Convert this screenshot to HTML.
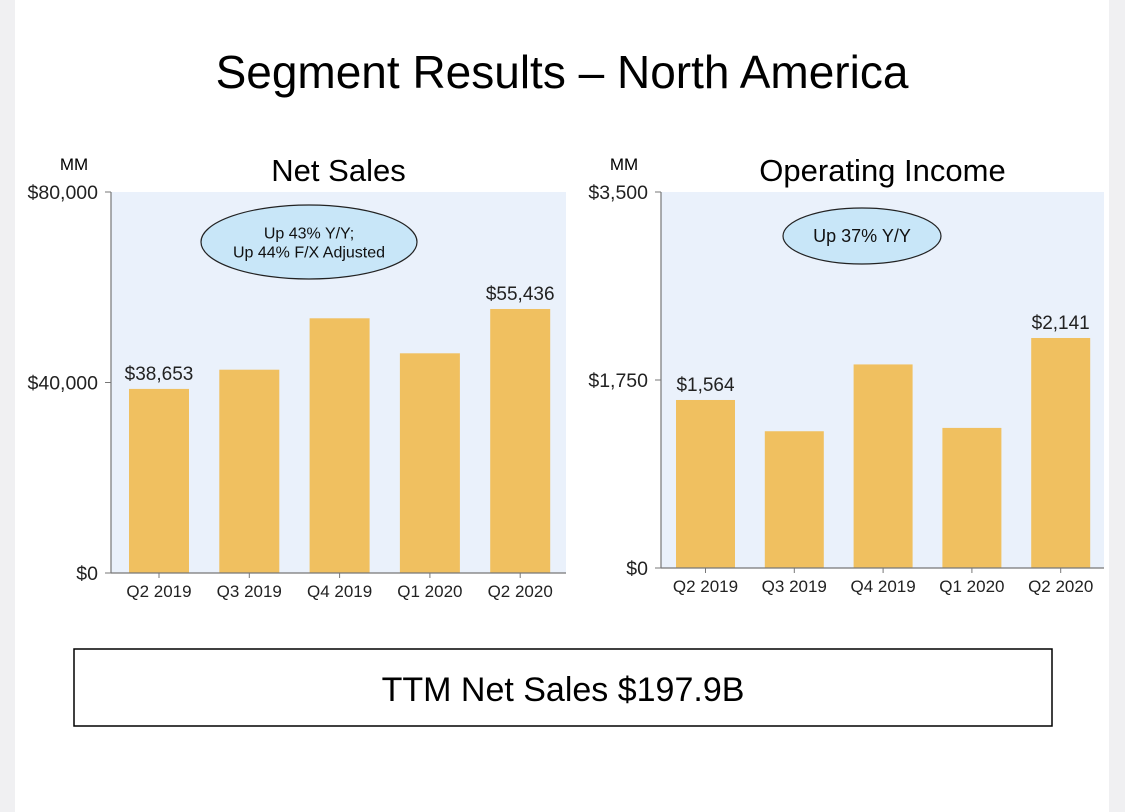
<!DOCTYPE html>
<html><head><meta charset="utf-8"><style>
body{margin:0;width:1125px;height:812px;background:#fff;font-family:"Liberation Sans",Arial,sans-serif;overflow:hidden;position:relative}
</style></head><body>
<div style="position:absolute;left:0;top:0;width:15px;height:812px;background:#f0f0f2"></div>
<div style="position:absolute;left:1109px;top:0;width:16px;height:812px;background:#f0f0f2"></div>
<svg width="1125" height="812" style="position:absolute;left:0;top:0">
<text x="562" y="88" font-size="46" text-anchor="middle" fill="#000">Segment Results – North America</text>
<g id="left"></g><g id="right"></g>
<rect x="74" y="649" width="978" height="77" fill="#fff" stroke="#000" stroke-width="1.5"/>
<text x="563" y="701" font-size="34" text-anchor="middle">TTM Net Sales $197.9B</text>
</svg>
<script>
const categories=["Q2 2019","Q3 2019","Q4 2019","Q1 2020","Q2 2020"];
const salesValues=[38653,42690,53480,46130,55436];
const salesLabels=["$38,653","","","","$55,436"];
const salesTicks=[0,40000,80000];
const salesTickLabels=["$0","$40,000","$80,000"];
const opValues=[1564,1273,1895,1304,2141];
const opLabels=["$1,564","","","","$2,141"];
const opTicks=[0,1750,3500];
const opTickLabels=["$0","$1,750","$3,500"];
const NS="http://www.w3.org/2000/svg";
function mk(p,t,a){const e=document.createElementNS(NS,t);for(const k in a)e.setAttribute(k,a[k]);p.appendChild(e);return e;}
function chart(g,cfg){
  const {x0,x1,top,base,max,vals,labels,ticks,tlabels,title,bubble,first,step,bw}=cfg;
  const y=v=>base-(v/max)*(base-top);
  const bx=i=>first+i*step;
  const bg=mk(g,'rect',{x:x0,y:top,width:x1-x0,height:base-top,fill:'#eaf1fb'});
  
  
  const t=mk(g,'text',{x:(x0+x1)/2,y:top-11,'font-size':31,'text-anchor':'middle'});t.textContent=title;
  
  
  const mm=mk(g,'text',{x:x0-37,y:top-22,'font-size':17,'text-anchor':'middle'});mm.textContent='MM';
  
  
  ticks.forEach((v,i)=>{
    mk(g,'line',{x1:x0-6,x2:x0,y1:y(v),y2:y(v),stroke:'#777'});
    const tl=mk(g,'text',{x:x0-13,y:y(v)+7,'font-size':19.5,'text-anchor':'end',fill:'#222'});tl.textContent=tlabels[i];
    
    
  });
  vals.forEach((v,i)=>{
    const r=mk(g,'rect',{x:bx(i),y:y(v),width:bw,height:base-y(v),fill:'#f0c060'});
    
    
    mk(g,'line',{x1:bx(i)+bw/2,x2:bx(i)+bw/2,y1:base,y2:base+5,stroke:'#777'});
    const xl=mk(g,'text',{x:bx(i)+bw/2,y:base+24,'font-size':17,'text-anchor':'middle',fill:'#222'});xl.textContent=categories[i];
    
    
    if(labels[i]){const vl=mk(g,'text',{x:bx(i)+bw/2,y:y(v)-9,'font-size':19,'text-anchor':'middle',fill:'#222'});vl.textContent=labels[i];
    
    }
  });
  mk(g,'line',{x1:x0,x2:x0,y1:top,y2:base,stroke:'#777','stroke-width':1.2});
  mk(g,'line',{x1:x0,x2:x1,y1:base,y2:base,stroke:'#777','stroke-width':1.2});
  const e=mk(g,'ellipse',{cx:bubble.cx,cy:bubble.cy,rx:bubble.rx,ry:bubble.ry,fill:'#c8e6f8',stroke:'#222','stroke-width':1.2});
  
  
  bubble.lines.forEach((s,i)=>{const bt=mk(g,'text',{x:bubble.cx,y:bubble.cy+6+(i-(bubble.lines.length-1)/2)*19,'font-size':bubble.fs,'text-anchor':'middle',fill:'#111'});bt.textContent=s;
    
    });
}
chart(document.getElementById('left'),{x0:111,x1:566,top:192,base:573,max:80000,vals:salesValues,labels:salesLabels,ticks:salesTicks,tlabels:salesTickLabels,title:'Net Sales',first:129,step:90.3,bw:60,bubble:{cx:309,cy:242,rx:108,ry:37,fs:16,lines:['Up 43% Y/Y;','Up 44% F/X Adjusted']}});
chart(document.getElementById('right'),{x0:661,x1:1104,top:192,base:568,max:3500,vals:opValues,labels:opLabels,ticks:opTicks,tlabels:opTickLabels,title:'Operating Income',first:676,step:88.8,bw:59,bubble:{cx:862,cy:236,rx:79,ry:28,fs:18,lines:['Up 37% Y/Y']}});
</script>
</body></html>
